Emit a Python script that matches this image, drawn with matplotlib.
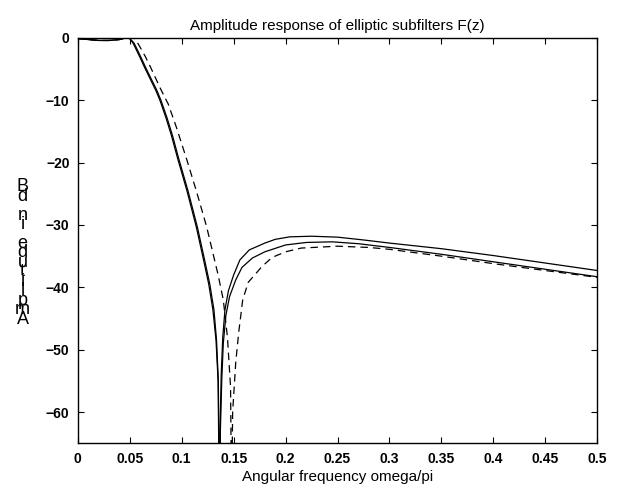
import matplotlib
matplotlib.use("Agg")
import matplotlib.pyplot as plt

plt.rcParams['font.family'] = ['Liberation Sans', 'DejaVu Sans']

# solid curve A (highest stopband)
xa = [0, 0.01, 0.02, 0.03, 0.04, 0.046, 0.05, 0.053, 0.056, 0.06, 0.065, 0.07, 0.075,
      0.079, 0.085, 0.09, 0.096, 0.105, 0.114, 0.121, 0.126, 0.130, 0.133, 0.135, 0.1362,
      0.137, 0.138, 0.1395, 0.1416, 0.145, 0.15, 0.156, 0.165, 0.18, 0.19, 0.204, 0.225,
      0.25, 0.275, 0.3, 0.35, 0.4, 0.45, 0.5]
ya = [-0.1, -0.25, -0.4, -0.4, -0.25, 0.0, -0.1, -0.8, -1.8, -3.2, -5.0, -6.7, -8.4,
      -10.0, -12.9, -15.6, -19.3, -24.5, -30.3, -35.6, -39.5, -43.6, -48.5, -55.0, -75.0,
      -62.0, -54.0, -48.0, -43.6, -40.5, -38.0, -35.6, -34.0, -32.9, -32.3, -31.9, -31.8,
      -31.95, -32.4, -32.9, -33.8, -34.9, -36.1, -37.3]

# solid curve B
xb = [0, 0.01, 0.02, 0.03, 0.04, 0.046, 0.05, 0.054, 0.057, 0.061, 0.066, 0.071, 0.076,
      0.08, 0.086, 0.091, 0.097, 0.106, 0.115, 0.122, 0.127, 0.131, 0.1335, 0.1352, 0.1365,
      0.1372, 0.1385, 0.140, 0.1425, 0.146, 0.152, 0.158, 0.168, 0.18, 0.2, 0.22, 0.245,
      0.27, 0.3, 0.35, 0.4, 0.45, 0.5]
yb = [-0.1, -0.25, -0.4, -0.4, -0.25, 0.0, -0.1, -0.8, -1.8, -3.2, -5.0, -6.7, -8.4,
      -10.0, -12.9, -15.6, -19.3, -24.5, -30.3, -35.6, -39.5, -43.6, -48.5, -55.0, -75.0,
      -63.0, -55.0, -49.0, -44.5, -41.5, -38.8, -36.8, -35.3, -34.3, -33.2, -32.8, -32.7,
      -33.0, -33.6, -34.7, -35.9, -37.1, -38.3]

# dashed curve C
xc = [0, 0.01, 0.02, 0.03, 0.04, 0.048, 0.055, 0.06, 0.065, 0.07, 0.075, 0.08, 0.087,
      0.095, 0.105, 0.114, 0.124, 0.130, 0.135, 0.140, 0.144, 0.147, 0.148,
      0.149, 0.152, 0.155, 0.1587, 0.164, 0.177, 0.187, 0.2, 0.215, 0.25, 0.28, 0.3,
      0.35, 0.4, 0.45, 0.5]
yc = [-0.1, -0.25, -0.4, -0.4, -0.25, 0.0, -0.1, -1.5, -3.0, -4.7, -6.5, -8.3, -10.6,
      -14.4, -19.6, -24.5, -30.3, -34.5, -38.0, -42.0, -48.0, -56.0, -75.0,
      -60.0, -52.0, -47.0, -42.0, -39.2, -36.7, -35.2, -34.3, -33.7, -33.4, -33.6, -33.9,
      -35.0, -36.2, -37.3, -38.4]

xticks = [0, 0.05, 0.1, 0.15, 0.2, 0.25, 0.3, 0.35, 0.4, 0.45, 0.5]
xticklabels = ['0', '0.05', '0.1', '0.15', '0.2', '0.25', '0.3', '0.35', '0.4', '0.45', '0.5']
yticks = [-60, -50, -40, -30, -20, -10, 0]

fig = plt.figure(figsize=(6.28, 4.93), dpi=100)
ax = fig.add_axes([0.124, 0.101, 0.827, 0.822])

ax.plot(xa, ya, color='black', lw=0.9)
ax.plot(xb, yb, color='black', lw=0.9)
ax.plot(xc, yc, color='black', lw=0.9, linestyle=(0, (6, 4)))

ax.set_xlim(0, 0.5)
ax.set_ylim(-65, 0)
ax.set_xticks(xticks)
ax.set_xticklabels(xticklabels)
ax.set_yticks(yticks)

ax.tick_params(direction='in', top=True, right=True, length=4, width=0.8, labelsize=10, pad=6)
for label in ax.get_xticklabels() + ax.get_yticklabels():
    label.set_fontweight('bold')
for s in ax.spines.values():
    s.set_linewidth(1.0)

ax.set_title('Amplitude response of elliptic subfilters F(z)', fontsize=11, pad=6)
ax.set_xlabel('Angular frequency omega/pi', fontsize=11, labelpad=3)

# y label drawn the way the original renders it: one character per line
ylab = "\n".join(reversed("Amplitude in dB"))
fig.text(0.036, 0.487, ylab, fontsize=13, ha='center', va='center', linespacing=0.42)

fig.savefig('out.png', dpi=100)
